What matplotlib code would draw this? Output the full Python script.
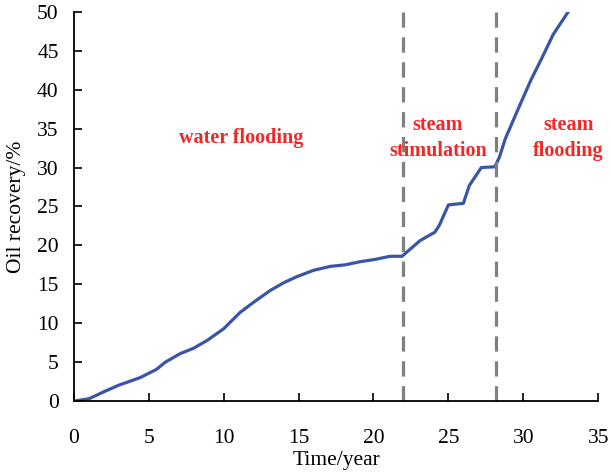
import numpy as np
import matplotlib
matplotlib.use("Agg")
import matplotlib.pyplot as plt

plt.rcParams['font.family'] = ['Liberation Serif', 'DejaVu Serif']

# cumulative oil recovery over the production history
years = [0, 1.0, 2.0, 3.0, 4.4, 5.5, 6.1, 7.1, 8.0, 8.9, 10.0, 11.1, 12.0, 13.1,
         14.0, 14.9, 16.0, 17.1, 18.1, 19.1, 20.1, 21.1, 21.9,
         23.1, 24.1, 24.4, 25.0, 26.0, 26.4, 27.2, 28.1,
         28.4, 28.8, 29.7, 30.5, 31.2, 32.0, 33.0]
recovery = [0, 0.3, 1.2, 2.05, 3.0, 4.06, 5.0, 6.1, 6.8, 7.8, 9.3, 11.4, 12.7, 14.2,
            15.2, 16.0, 16.8, 17.3, 17.5, 17.9, 18.2, 18.6, 18.6,
            20.6, 21.7, 22.6, 25.2, 25.4, 27.7, 30.0, 30.1,
            31.3, 33.7, 37.7, 41.2, 43.9, 47.1, 50.0]

# boundaries between recovery stages
stage_bounds = [21.95, 28.2]

fig = plt.figure(figsize=(6.11, 4.73), dpi=100)
ax = fig.add_axes([0.121, 0.152, 0.858, 0.823])

ax.plot(years, recovery, color='#3a55a6', lw=2.3, solid_joinstyle='round')
for xb in stage_bounds:
    ax.plot([xb, xb], [0, 50], color='#808080', lw=2.3, dashes=(4.8, 3), clip_on=False)

ax.set_xlim(0, 35)
ax.set_ylim(0, 50)
ax.set_xticks(np.arange(0, 36, 5))
ax.set_yticks(np.arange(0, 51, 5))
ax.tick_params(direction='in', length=6, width=1.2, labelsize=15.5, pad=11)
ax.tick_params(axis='x', pad=20)
for s in ['top', 'right']:
    ax.spines[s].set_visible(False)
for s in ['left', 'bottom']:
    ax.spines[s].set_linewidth(1.3)

ax.set_xlabel('Time/year', fontsize=15.5, labelpad=2)
ax.set_ylabel('Oil recovery/%', fontsize=15.5, labelpad=8)

red = '#f02828'
ax.text(11.2, 33.8, 'water flooding', color=red, fontsize=14.5, fontweight='bold',
        ha='center', va='center')
ax.text(24.3, 35.4, 'steam', color=red, fontsize=14.5, fontweight='bold',
        ha='center', va='center')
ax.text(24.3, 32.1, 'stimulation', color=red, fontsize=14.5, fontweight='bold',
        ha='center', va='center')
ax.text(33.0, 35.4, 'steam', color=red, fontsize=14.5, fontweight='bold',
        ha='center', va='center')
ax.text(33.0, 32.1, 'flooding', color=red, fontsize=14.5, fontweight='bold',
        ha='center', va='center')

fig.savefig('out.png', dpi=100)
